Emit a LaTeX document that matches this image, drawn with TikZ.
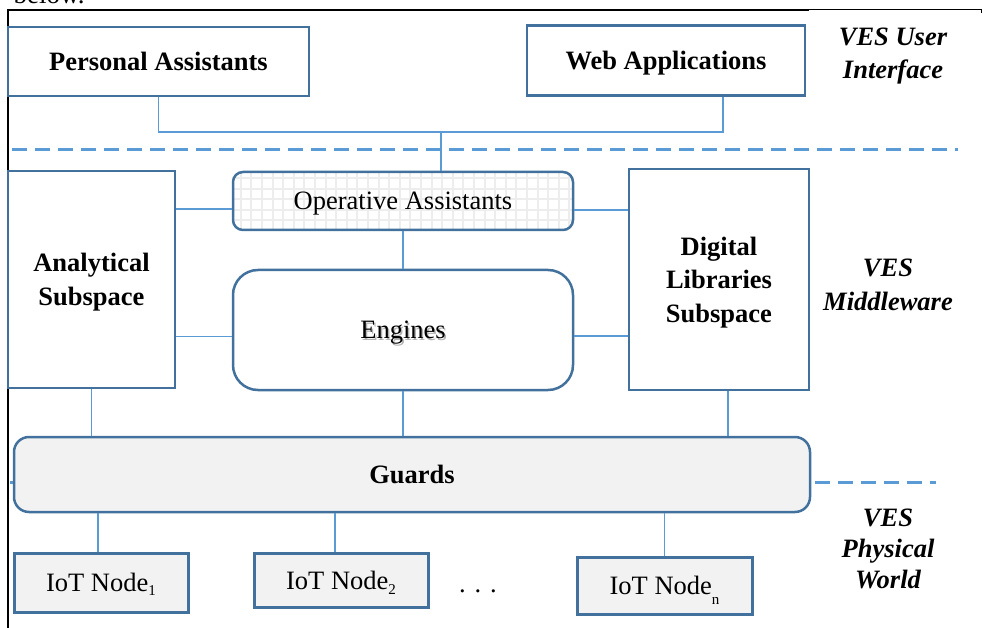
\documentclass[tikz,border=0pt]{standalone}
\usepackage{fontspec}
\setmainfont{Liberation Serif}
\definecolor{boxblue}{HTML}{41719C}
\definecolor{linkblue}{HTML}{5B9BD5}
\definecolor{panel}{HTML}{F2F2F2}
\newcommand{\sz}[2]{\fontsize{#1}{#2}\selectfont}
\begin{document}
\begin{tikzpicture}[x=1pt,y=-1pt,
  font=\sz{26.5}{30},
  box/.style={draw=boxblue, line width=2.5pt, inner sep=0pt, align=center, text depth=0pt},
  roundbox/.style={box, rounded corners=#1},
  conn/.style={draw=linkblue, line width=1.2pt},
  sepline/.style={draw=linkblue, line width=3pt, dash pattern=on 15pt off 8pt},
  layer/.style={align=center, font=\sz{26.5}{#1}\bfseries\itshape},
  gridfill/.style={path picture={
      \draw[black!7, line width=2pt, step=10.6pt]
        (path picture bounding box.south west) grid (path picture bounding box.north east);}}
]
\useasboundingbox (0,0) rectangle (983,628);

% running text above the frame
\node[anchor=base west, font=\sz{27}{30}] (cap) at (10,4) {below.};

% outer frame
\draw[black, line width=1.5pt] (8,628) -- (8,10) -- (809,10);
\draw[black, line width=1pt] (809,10) -- (981,10) -- (981,13);

% layer separators
\draw[sepline] (12,150) -- (958,150);
\draw[sepline] (10,482) -- (936,482);

% user interface layer
\node[box, minimum width=301pt, minimum height=69pt, font=\sz{26.5}{30}\bfseries]
  (pa) at (158.5,61.5) {Personal Assistants};
\node[box, minimum width=278pt, minimum height=70pt, font=\sz{26.5}{30}\bfseries]
  (wa) at (666,60.5) {Web Applications};

% middleware layer
\node[roundbox=10pt, minimum width=340pt, minimum height=58pt, gridfill]
  (oa) at (403,201) {Operative Assistants};
\node[text=black!30, text depth=0pt] (ensh) at (404.5,331.5) {Engines};
\node[roundbox=25pt, minimum width=340pt, minimum height=120pt]
  (en) at (403,330) {Engines};
\node[box, minimum width=167pt, minimum height=217pt, font=\sz{26.5}{34}\bfseries]
  (an) at (91.5,279.5) {Analytical\\Subspace};
\node[box, minimum width=180pt, minimum height=221pt, font=\sz{26.5}{33.5}\bfseries]
  (dl) at (719,279.5) {Digital\\Libraries\\Subspace};

% guards
\node[roundbox=15pt, fill=panel, minimum width=796pt, minimum height=75pt, font=\sz{26.5}{30}\bfseries]
  (gd) at (412,474.5) {Guards};

% physical world
\node[box, line width=3pt, fill=panel, minimum width=174pt, minimum height=59pt]
  (iot1) at (101,582.5) {IoT Node\raisebox{-4pt}{\sz{15}{15}1}};
\node[box, line width=3pt, fill=panel, minimum width=174pt, minimum height=54pt]
  (iot2) at (341,580) {IoT Node\raisebox{-5pt}{\sz{15}{15}2}};
\node[box, line width=3pt, fill=panel, minimum width=175pt, minimum height=57pt]
  (iotn) at (664.5,585.5) {IoT Node\raisebox{-10pt}{\sz{15}{15}n}};
\node[anchor=base] (dots) at (478,592) {. . .};

% layer labels
\node[layer=33] (lui) at (893,56) {VES User\\Interface};
\node[layer=34] (lmw) at (888,285) {VES\\Middleware};
\node[layer=31] (lpw) at (888,549) {VES\\Physical\\World};

% connectors: user interface to middleware
\coordinate (bus) at (441,132);
\coordinate (waport) at ([xshift=57pt]wa.south);
\draw[conn] (pa.south) |- (bus) -| (waport);
\draw[conn] (bus) -- (bus |- oa.north);

% connectors inside the middleware
\coordinate (oaL) at ([yshift=-8pt]oa.west);
\coordinate (oaR) at ([yshift=-9pt]oa.east);
\coordinate (enL) at ([yshift=-6.5pt]en.west);
\coordinate (enR) at ([yshift=-6pt]en.east);
\draw[conn] (an.east |- oaL) -- (oaL);
\draw[conn] (an.east |- enL) -- (enL);
\draw[conn] (oaR) -- (dl.west |- oaR);
\draw[conn] (enR) -- (dl.west |- enR);
\draw[conn] (oa.south) -- (en.north);

% connectors down to the guards
\coordinate (dlB) at ([xshift=9pt]dl.south);
\draw[conn] (an.south) -- (an.south |- gd.north);
\draw[conn] (en.south) -- (en.south |- gd.north);
\draw[conn] (dlB) -- (dlB |- gd.north);

% connectors from the guards to the nodes
\coordinate (i1T) at ([xshift=-3pt]iot1.north);
\coordinate (i2T) at ([xshift=-6pt]iot2.north);
\draw[conn] (i1T |- gd.south) -- (i1T);
\draw[conn] (i2T |- gd.south) -- (i2T);
\draw[conn] (iotn.north |- gd.south) -- (iotn.north);
\end{tikzpicture}
\end{document}
